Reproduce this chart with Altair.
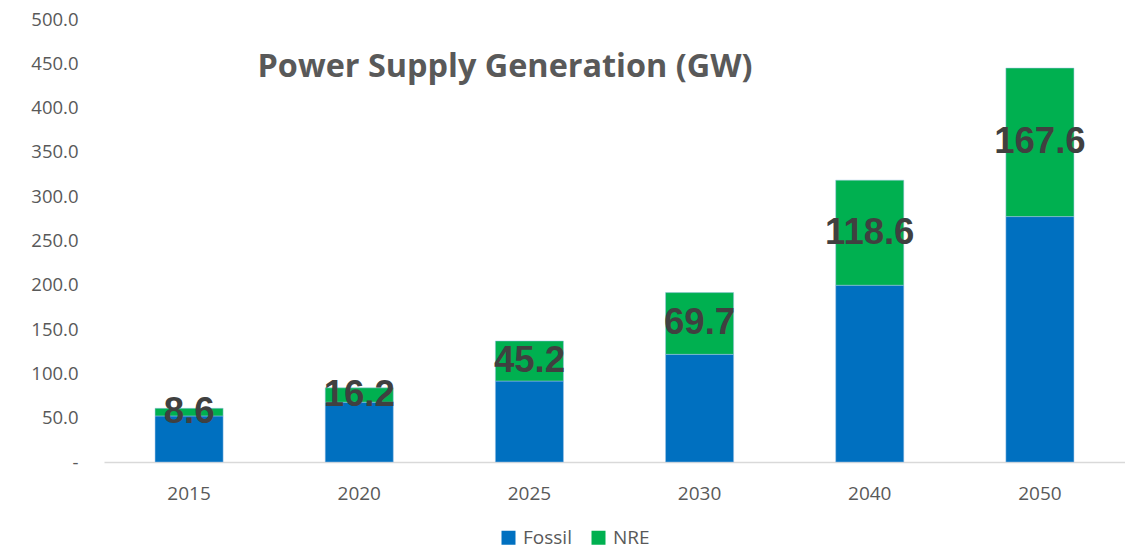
import altair as alt
import pandas as pd

years = ["2015", "2020", "2025", "2030", "2040", "2050"]
fossil = [52.0, 67.5, 91.4, 121.5, 199.5, 277.0]
nre = [8.6, 16.2, 45.2, 69.7, 118.6, 167.6]
series = ["Fossil", "NRE"]
colors = ["#0070C0", "#00B050"]

rows = []
for y, f, n in zip(years, fossil, nre):
    rows.append({"year": y, "series": "Fossil", "value": f, "ord": 0})
    rows.append({"year": y, "series": "NRE", "value": n, "ord": 1})
df = pd.DataFrame(rows)

lab = pd.DataFrame({
    "year": years,
    "mid": [f + n / 2 for f, n in zip(fossil, nre)],
    "label": [f"{n:.1f}" for n in nre],
})

W, H = 1021, 443

xenc = alt.X("year:N", sort=years, title=None,
             scale=alt.Scale(paddingInner=0.6, paddingOuter=0.3),
             axis=alt.Axis(labelAngle=0, ticks=False, domainColor="#d9d9d9",
                           domainWidth=1.5, labelFont="Open Sans", labelFontSize=19,
                           labelColor="#595959", labelPadding=22))

bars = alt.Chart(df).mark_bar(stroke="#9dc3e6", strokeWidth=0.5).encode(
    x=xenc,
    y=alt.Y("value:Q", stack="zero", title=None,
            scale=alt.Scale(domain=[0, 500], nice=False),
            axis=alt.Axis(values=[0, 50, 100, 150, 200, 250, 300, 350, 400, 450, 500],
                          labelExpr="datum.value == 0 ? '-' : format(datum.value, '.1f')",
                          grid=False, domain=False, ticks=False, labelPadding=26,
                          labelFont="Open Sans", labelFontSize=18.5, labelColor="#595959")),
    color=alt.Color("series:N", sort=series,
                    scale=alt.Scale(domain=series, range=colors),
                    legend=alt.Legend(title=None, orient="none", direction="horizontal",
                                      legendX=395, legendY=509, symbolType="square",
                                      symbolSize=196, symbolStrokeWidth=0,
                                      labelFont="Open Sans", labelFontSize=19,
                                      labelColor="#595959", labelOffset=5,
                                      columnPadding=17)),
    order=alt.Order("ord:Q"),
)

labels = alt.Chart(lab).mark_text(font="Liberation Sans", fontWeight="bold",
                                  fontSize=36.5, color="#404040",
                                  align="center", baseline="middle").encode(
    x=alt.X("year:N", sort=years),
    y=alt.Y("mid:Q"),
    text="label:N",
)

title = alt.Chart(pd.DataFrame({"t": ["Power Supply Generation (GW)"]})).mark_text(
    font="Open Sans", fontWeight="bold", fontSize=32.4, color="#595959",
    align="center", baseline="middle").encode(
    x=alt.value(401), y=alt.value(48), text="t:N")

chart = alt.layer(bars, labels, title).properties(
    width=W, height=H,
    padding={"left": 96, "top": 11, "right": 0, "bottom": 87},
    autosize="none",
).configure_view(stroke=None)

chart.save("out.html", embed_options={"renderer": "svg", "actions": False})
